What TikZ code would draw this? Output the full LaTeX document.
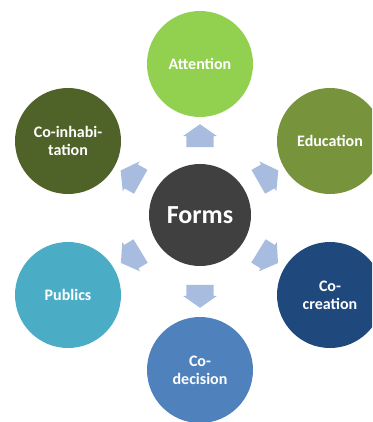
\documentclass[tikz,border=0pt]{standalone}
\usepackage{fontspec}
\setmainfont{Carlito}
\usetikzlibrary{shapes.arrows}
\definecolor{attgreen}{HTML}{92D050}
\definecolor{edugreen}{HTML}{77933C}
\definecolor{inhabgreen}{HTML}{4F6228}
\definecolor{creatblue}{HTML}{1F497D}
\definecolor{decisblue}{HTML}{4F81BD}
\definecolor{publteal}{HTML}{4BACC6}
\definecolor{formsgray}{HTML}{404040}
\definecolor{arrowblue}{HTML}{A7BCDE}

\begin{document}
\begin{tikzpicture}
[x=1pt,y=-1pt,%
  every node/.style={shape=circle,inner sep=0pt,text=white,align=center,%
    font=\bfseries\fontsize{16}{18}\selectfont},%
  form/.style={minimum size=106pt},%
  blockarrow/.style={shape=single arrow,fill=arrowblue,inner xsep=0pt,inner ysep=13.5pt,%
    sloped,allow upside down,minimum height=23pt,single arrow head extend=3.5pt,%
    single arrow head indent=0pt,single arrow tip angle=110}]
\useasboundingbox (0,0) rectangle (372,422);
\clip (0,0) rectangle (372,422);
\node[fill=formsgray,minimum size=102pt,font=\bfseries\fontsize{26}{30}\selectfont] (forms) at (200,215) {Forms};
\node[form,fill=attgreen] (attention) at (200,64) {Attention};
\node[form,fill=edugreen] (education) at (330,141) {Education};
\node[form,fill=creatblue] (cocreation) at (330,295) {Co-\\creation};
\node[form,fill=decisblue] (codecision) at (200,370) {Co-\\decision};
\node[form,fill=publteal] (publics) at (68,295) {Publics};
\node[form,fill=inhabgreen] (coinhabitation) at (68,141) {Co-inhabi-\\tation};
% arrows out of the centre
\foreach \n in {attention,education,cocreation,codecision,publics,coinhabitation}
  \path (forms) -- (\n) node[midway,blockarrow] {};
\end{tikzpicture}
\end{document}
